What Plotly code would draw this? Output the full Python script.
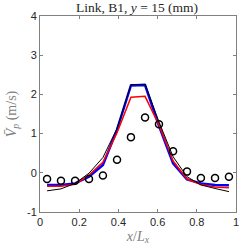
import plotly.graph_objects as go

x_pos = [0.036, 0.107, 0.179, 0.25, 0.321, 0.393, 0.464, 0.536, 0.607, 0.679, 0.75, 0.821, 0.893, 0.964]
exp_vals = [-0.16, -0.2, -0.2, -0.16, -0.07, 0.33, 0.91, 1.41, 1.24, 0.55, 0.03, -0.13, -0.13, -0.1]
blue_vals = [-0.31, -0.31, -0.27, -0.1, 0.2, 1.1, 2.23, 2.24, 1.2, 0.24, -0.17, -0.27, -0.31, -0.32]
red_vals = [-0.34, -0.34, -0.29, -0.06, 0.27, 1.02, 1.93, 1.95, 1.22, 0.3, -0.16, -0.3, -0.36, -0.38]
black_vals = [-0.46, -0.41, -0.27, -0.01, 0.39, 1.13, 2.25, 2.26, 1.3, 0.41, -0.1, -0.31, -0.4, -0.48]
x_ticks = [0, 0.2, 0.4, 0.6, 0.8, 1]
y_ticks = [-1, 0, 1, 2, 3, 4]

fig = go.Figure()
fig.add_trace(go.Scatter(x=x_pos, y=blue_vals, mode="lines", line=dict(color="#0000ff", width=2.5), showlegend=False))
fig.add_trace(go.Scatter(x=x_pos, y=red_vals, mode="lines", line=dict(color="#ff0000", width=1.5), showlegend=False))
fig.add_trace(go.Scatter(x=x_pos, y=black_vals, mode="lines", line=dict(color="#000000", width=1), showlegend=False))
fig.add_trace(go.Scatter(x=x_pos, y=exp_vals, mode="markers",
                         marker=dict(symbol="circle-open", size=7, color="#000000", line=dict(width=1.5)),
                         showlegend=False))

serif = "Liberation Serif, Times New Roman, serif"
axis_common = dict(
    showline=True, linecolor="#808080", linewidth=1, mirror="ticks",
    ticks="inside", ticklen=3, tickcolor="#808080", showgrid=False, zeroline=False,
    automargin=False,
    tickfont=dict(family="Liberation Sans, Arial, sans-serif", size=11, color="#262626"),
)

fig.update_layout(
    width=240, height=249,
    margin=dict(l=40, r=4, t=16, b=37, autoexpand=False),
    paper_bgcolor="white", plot_bgcolor="white",
    title=dict(text="Link, B1, <i>y</i> = 15 (mm)", x=137 / 240, xanchor="center", y=1 - 7 / 249, yanchor="middle",
               font=dict(family=serif, size=13.5, color="#262626"), automargin=False),
    xaxis=dict(range=[0, 1], tickvals=x_ticks, ticktext=[str(t) for t in x_ticks],
               title=dict(text="<i>x</i>/<i>L<sub>x</sub></i>", standoff=3,
                          font=dict(family=serif, size=14, color="#808080")),
               **axis_common),
    yaxis=dict(range=[-1, 4], tickvals=y_ticks, ticktext=[str(t) for t in y_ticks],
               title=dict(text="<i>V\u0304</i><sub><i>p</i></sub> (m/s)", standoff=7,
                          font=dict(family=serif, size=14, color="#808080")),
               **axis_common),
)

fig.write_html("out.html", config={"displayModeBar": False},
               post_script="document.body.style.margin='0';document.body.style.overflow='hidden';")
